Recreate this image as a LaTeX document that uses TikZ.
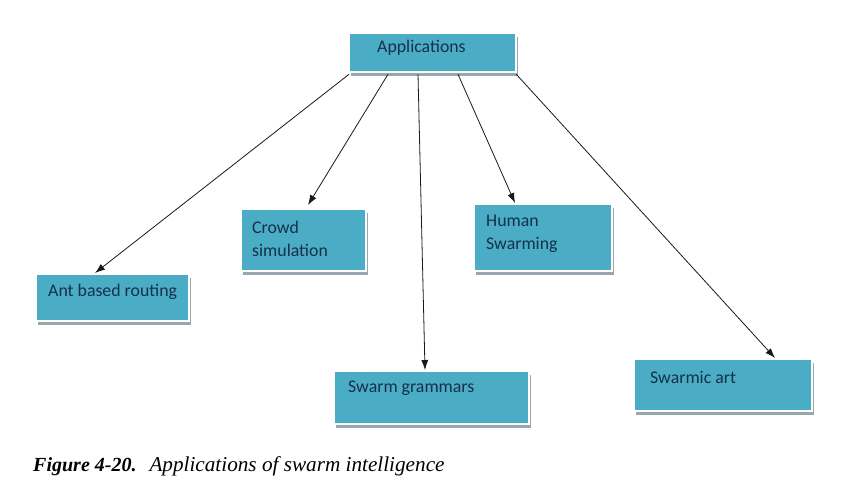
\documentclass[tikz,border=0pt]{standalone}
\usepackage{fontspec}
\newfontfamily\boxfont{Carlito}
\newfontfamily\capfont{Liberation Serif}
\usetikzlibrary{arrows.meta,shadows}
\definecolor{boxfill}{HTML}{4BACC6}
\definecolor{boxtext}{HTML}{15304A}
\definecolor{boxshade}{HTML}{98A6AE}
\tikzset{
  appbox/.style={anchor=north west, fill=boxfill, draw=black!15, double=white,
    double distance=2pt, line width=0.3pt, inner sep=0pt,
    drop shadow={shadow xshift=1.5pt, shadow yshift=-4pt, fill=boxshade, opacity=1}},
  boxlabel/.style={anchor=west, inner sep=0pt, text=boxtext, align=left,
    font=\boxfont\fontsize{17.8}{23}\selectfont},
  link/.style={-{Latex[length=10pt,width=7pt]}, draw=black!90, line width=0.8pt}
}
\begin{document}
\begin{tikzpicture}[x=1pt,y=-1pt]
\fill[white] (0,0) rectangle (853,488);
\useasboundingbox (0,0) rectangle (853,488);

\node[appbox, minimum width=167, minimum height=39] (app) at (349,33) {};
\node[appbox, minimum width=153, minimum height=47] (ant) at (36,274) {};
\node[appbox, minimum width=125, minimum height=62] (crowd) at (241,209) {};
\node[appbox, minimum width=138, minimum height=67] (human) at (474,204) {};
\node[appbox, minimum width=195, minimum height=53] (gram) at (334,371) {};
\node[appbox, minimum width=178, minimum height=52] (art) at (634,359) {};

\node[boxlabel] (appT) at (377,48) {Applications};
\node[boxlabel] (antT) at (48,292) {Ant based routing};
\node[boxlabel] (crowdT) at (252,238.5) {Crowd\\simulation};
\node[boxlabel] (humanT) at (486,233.5) {Human\\Swarming};
\node[boxlabel] (gramT) at (348,388) {Swarm grammars};
\node[boxlabel] (artT) at (650,377) {Swarmic art};

\draw[link] ([yshift=-2pt]app.south west) -- ([xshift=59pt,yshift=1pt]ant.north west);
\draw[link] ([xshift=39pt,yshift=-2pt]app.south west) -- ([xshift=67pt,yshift=4pt]crowd.north west);
\draw[link] ([xshift=69pt,yshift=-2pt]app.south west) -- ([xshift=91pt,yshift=1pt]gram.north west);
\draw[link] ([xshift=109pt,yshift=-2pt]app.south west) -- ([xshift=41pt,yshift=1pt]human.north west);
\draw[link] ([yshift=-2pt]app.south east) -- ([xshift=141pt,yshift=1pt]art.north west);

\node[anchor=base west, inner sep=0pt] (caption) at (33,471)
  {\capfont\fontsize{20}{22}\selectfont\textbf{\textit{Figure 4-20.}}\hspace{13pt}{\fontsize{21.2}{22}\selectfont\textit{Applications of swarm intelligence}}};
\end{tikzpicture}
\end{document}
